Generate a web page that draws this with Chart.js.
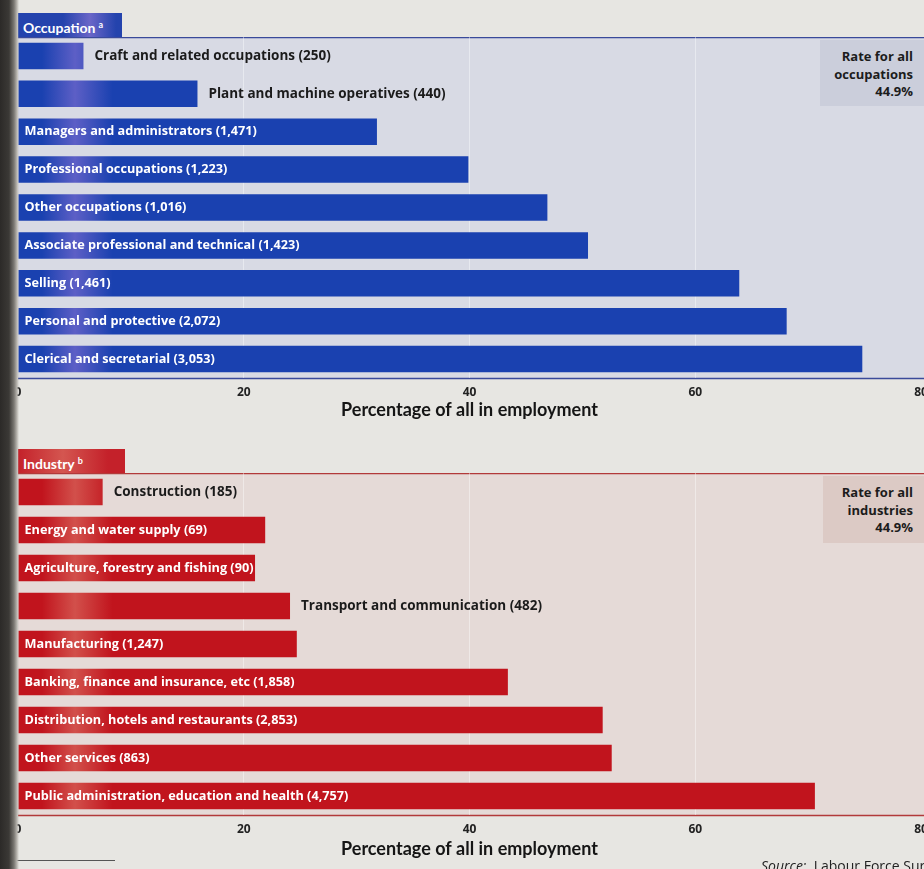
<!DOCTYPE html>
<html>
<head>
<meta charset="utf-8">
<script src="https://cdn.jsdelivr.net/npm/chart.js@4.4.0/dist/chart.umd.min.js"></script>
<style>
  body { margin: 0; width: 924px; height: 869px; overflow: hidden; position: relative;
         background: #e7e6e2; font-family: "Open Sans", Lato, sans-serif; }
  .box { position: absolute; }
  .tab { position: absolute; color: #fff; font-weight: bold; font-size: 14px; line-height: 24px;
         padding-left: 5px; box-sizing: border-box; font-family: Lato, sans-serif; }
  .tab sup { font-size: 9px; vertical-align: 5px; margin-left: 3px; }
  .rate { position: absolute; text-align: right; font-weight: bold; font-size: 13px; line-height: 17.5px;
          color: #1c1c1c; padding: 8px 11px 0 0; box-sizing: border-box; }
  .strip { position: absolute; left: 0; top: 0; width: 19px; height: 869px;
           background: linear-gradient(to right, #2c2a28 0, #3b3936 9px, #7b7873 14px, #b9b6b0 17px, rgba(200,200,200,0) 19px); }
  .source { position: absolute; left: 761px; top: 856px; font-size: 14px; color: #222; white-space: nowrap; }
</style>
</head>
<body>

<div class="tab" style="left:18px; top:13px; width:104px; height:24px; background:linear-gradient(to right,#2443ad 0,#2443ad 45px,#6a66c8 72px,#2443ad 98px);">Occupation<sup>a</sup></div>
<div class="box" style="left:0; top:37px;"><canvas id="occChart" width="924" height="388"></canvas></div>
<div class="rate" style="left:820px; top:40px; width:104px; height:66px; background:#cbcedb;">Rate for all<br>occupations<br>44.9%</div>

<div class="tab" style="left:18px; top:449px; width:107px; height:24px; background:linear-gradient(to right,#c4212a 0,#d45650 45px,#c4212a 90px);">Industry<sup>b</sup></div>
<div class="box" style="left:0; top:473px;"><canvas id="indChart" width="924" height="389"></canvas></div>
<div class="rate" style="left:823px; top:476px; width:101px; height:67px; background:#dccac5;">Rate for all<br>industries<br>44.9%</div>

<div style="position:absolute; left:0; top:860px; width:115px; height:1px; background:#555;"></div>
<div class="source"><i>Source:</i>&nbsp; Labour Force Survey</div>
<div class="strip"></div>

<script>
// occupation data (percentage of all in employment)
var occNames = ['Craft and related occupations', 'Plant and machine operatives', 'Managers and administrators',
  'Professional occupations', 'Other occupations', 'Associate professional and technical',
  'Selling', 'Personal and protective', 'Clerical and secretarial'];
var occCounts = ['250', '440', '1,471', '1,223', '1,016', '1,423', '1,461', '2,072', '3,053'];
var occValues = [5.8, 15.9, 31.8, 39.9, 46.9, 50.5, 63.9, 68.1, 74.8];
var occOutside = [0, 1];

// industry data
var indNames = ['Construction', 'Energy and water supply', 'Agriculture, forestry and fishing',
  'Transport and communication', 'Manufacturing', 'Banking, finance and insurance, etc',
  'Distribution, hotels and restaurants', 'Other services', 'Public administration, education and health'];
var indCounts = ['185', '69', '90', '482', '1,247', '1,858', '2,853', '863', '4,757'];
var indValues = [7.5, 21.9, 21.0, 24.1, 24.7, 43.4, 51.8, 52.6, 70.6];
var indOutside = [0, 3];

var xTicks = [0, 20, 40, 60, 80];

function makeChart(canvasId, names, counts, values, outside, colors, titlePad) {
    var labels = names.map(function (n, i) { return n + ' (' + counts[i] + ')'; });

    // 배경 + 위/아래 선
    var panel = {
        id: 'panel',
        beforeDraw: function (chart) {
            var ctx = chart.ctx, a = chart.chartArea;
            ctx.save();
            ctx.fillStyle = colors.panel;
            ctx.fillRect(a.left, a.top, chart.width - a.left, a.bottom - a.top);
            ctx.strokeStyle = colors.line;
            ctx.lineWidth = 1.5;
            ctx.beginPath();
            ctx.moveTo(a.left, a.top + 0.5); ctx.lineTo(chart.width, a.top + 0.5);
            ctx.moveTo(a.left, a.bottom + 0.5); ctx.lineTo(chart.width, a.bottom + 0.5);
            ctx.stroke();
            ctx.restore();
        }
    };

    // 막대 라벨
    var barLabels = {
        id: 'barLabels',
        afterDatasetsDraw: function (chart) {
            var ctx = chart.ctx;
            ctx.save();
            ctx.textBaseline = 'middle';
            chart.getDatasetMeta(0).data.forEach(function (bar, i) {
                if (outside.indexOf(i) >= 0) {
                    ctx.font = 'bold 13.5px "Open Sans"';
                    ctx.fillStyle = '#1b1b1b';
                    ctx.fillText(labels[i], bar.x + 11, bar.y);
                } else {
                    ctx.font = 'bold 12.7px "Open Sans"';
                    ctx.fillStyle = '#ffffff';
                    ctx.fillText(labels[i], bar.base + 6, bar.y);
                }
            });
            ctx.restore();
        }
    };

    var ctx = document.getElementById(canvasId).getContext('2d');
    return new Chart(ctx, {
        type: 'bar',
        data: {
            labels: labels,
            datasets: [{
                data: values,
                backgroundColor: function (c) {
                    var a = c.chart.chartArea;
                    if (!a) return colors.bar;
                    var g = c.chart.ctx.createLinearGradient(0, 0, 150, 0);
                    g.addColorStop(0, colors.bar);
                    g.addColorStop(0.28, colors.bar);
                    g.addColorStop(0.5, colors.glare);
                    g.addColorStop(0.75, colors.bar);
                    g.addColorStop(1, colors.bar);
                    return g;
                },
                borderWidth: 0,
                barPercentage: 0.7,
                categoryPercentage: 1
            }]
        },
        options: {
            indexAxis: 'y',
            responsive: false,
            animation: false,
            layout: { padding: { left: 18, right: 3, top: 0, bottom: 0 } },
            plugins: { legend: { display: false }, tooltip: { enabled: false } },
            scales: {
                x: {
                    min: 0, max: 80,
                    afterBuildTicks: function (s) { s.ticks = xTicks.map(function (v) { return { value: v }; }); },
                    afterFit: function (s) { s.height = 47; s.paddingLeft = 0; s.paddingRight = 0; },
                    grid: {
                        drawTicks: false,
                        color: function (c) { return (c.tick && (c.tick.value === 0 || c.tick.value === 80)) ? 'rgba(0,0,0,0)' : 'rgba(255,255,255,0.4)'; },
                        lineWidth: 1
                    },
                    border: { display: false },
                    ticks: { padding: 7, font: { family: 'Open Sans', weight: 'bold', size: 12 }, color: '#222', maxRotation: 0 },
                    title: { display: true, text: 'Percentage of all in employment',
                             font: { family: 'Lato', weight: 'bold', size: 18 }, color: '#151515',
                             padding: { top: 0, bottom: titlePad } }
                },
                y: { display: false }
            }
        },
        plugins: [panel, barLabels]
    });
}

makeChart('occChart', occNames, occCounts, occValues, occOutside,
    { bar: '#1a41b0', glare: '#5d5fc6', panel: '#d8dae4', line: '#3a4a9a' }, 4);
makeChart('indChart', indNames, indCounts, indValues, indOutside,
    { bar: '#c1141d', glare: '#d2504b', panel: '#e5dad7', line: '#b23a3a' }, 2);
</script>
</body>
</html>
